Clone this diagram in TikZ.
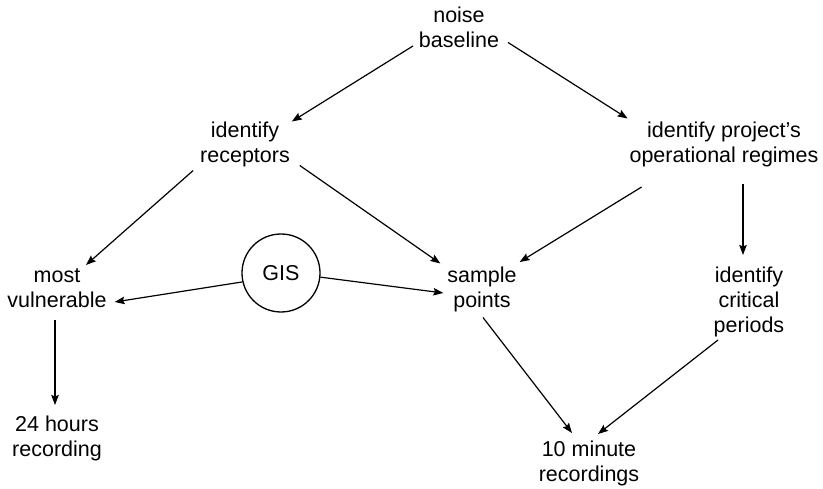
\documentclass[tikz,border=0pt]{standalone}
\usepackage{fontspec}
\setmainfont{Liberation Sans}
\usetikzlibrary{arrows.meta,calc}
\begin{document}
\begin{tikzpicture}[x=1pt,y=-1pt,
  label/.style={align=center,inner sep=2pt,outer sep=0pt,
    font=\fontsize{21.5}{25}\selectfont},
  ring/.style={circle,draw,line width=1.3pt,minimum size=78pt,inner sep=0pt,
    font=\fontsize{21.5}{25}\selectfont},
  link/.style={line width=1.2pt,-{Stealth[length=10pt,width=7.5pt,inset=1.5pt]}}]
\useasboundingbox (0,0) rectangle (823,489);

% steps of the survey
\node[label] (nb) at (459,30.5)  {noise\strut\\baseline\strut};
\node[label] (ir) at (245,145.5) {identify\strut\\receptors\strut};
\node[label] (op) at (724,145.5) {identify project’s\strut\\operational regimes\strut};
\node[label] (mv) at (57,290.5)  {most\strut\\vulnerable\strut};
\node[label] (sp) at (482,290.5) {sample\strut\\points\strut};
\node[label] (ic) at (749,303)   {identify\strut\\critical\\periods\strut};
\node[label] (hr) at (57,439.5)  {24 hours\strut\\recording\strut};
\node[label] (tm) at (589,464.5) {10 minute\strut\\recordings\strut};
\node[ring]  (gis) at (281,273)  {GIS};

% connectors
\draw[link] ($(nb.west)+(-4,15.5)$) -- ($(ir.north east)+(0,3)$);
\draw[link] ($(nb.east)+(7,12)$) -- ($(op.north west)+(0,0)$);
\draw[link] ($(ir.south west)+(-5,-2)$) -- ($(mv.north)+(29,1.5)$);
\draw[link] ($(ir.south east)+(8,-7)$) -- ($(sp.north west)+(-5,0)$);
\draw[link] ($(op.south west)+(14,14.5)$) -- ($(sp.north east)+(1,-1.5)$);
\draw[link] ($(op.south)+(19,12)$) -- ($(ic.north)+(-6,-8.5)$);
\draw[link] (gis.193) -- ($(mv.east)+(6,11.5)$);
\draw[link] (gis.-6) -- ($(sp.west)+(-2,2.5)$);
\draw[link] ($(mv.south)+(-2,3)$) -- ($(hr.north)+(-2,-7.5)$);
\draw[link] ($(sp.south)+(1,0)$) -- ($(tm.north)+(-17,-4.5)$);
\draw[link] ($(ic.south)+(-31,-2.5)$) -- ($(tm.north)+(9,-3.5)$);
\end{tikzpicture}
\end{document}
